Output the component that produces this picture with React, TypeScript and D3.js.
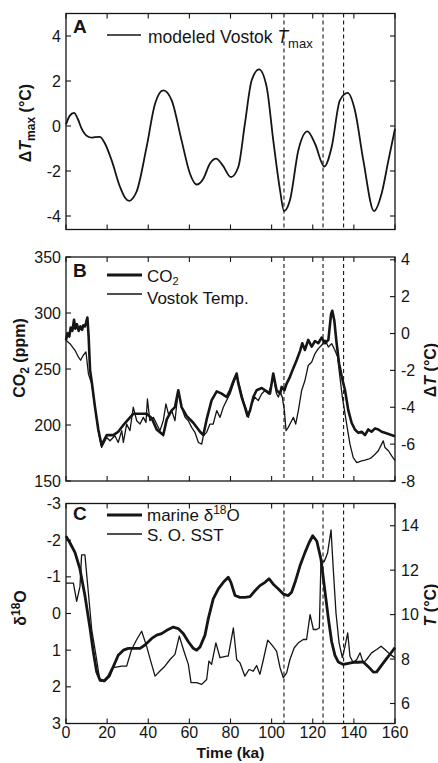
import React from "react";
import * as d3 from "d3";

const FONT = "'Liberation Sans', Arial, Helvetica, sans-serif";
const INK = "#151515";

// shared time axis (ka)
const ageDomain = [0, 160];
const ageTicks = [0, 20, 40, 60, 80, 100, 120, 140, 160];
const eventAges = [106, 125, 135];

// panel A: modeled Vostok Tmax
const tmaxTicks = [-4, -2, 0, 2, 4];
const tmaxSeries: [number, number][] = [
  [0, 0.07], [1.8, 0.45], [3.9, 0.58], [5.8, 0.3], [7.6, -0.12], [10.4, -0.46], [12.5, -0.52],
  [14.1, -0.49], [16.5, -0.48], [19, -0.79], [22.2, -1.53], [26.3, -2.71], [28.8, -3.2],
  [30.8, -3.33], [32.6, -3.2], [34.4, -2.9], [39.2, -0.93], [43.3, 0.99], [47.3, 1.58],
  [51.4, 1.14], [56.2, -0.64], [60.3, -2.12], [63.5, -2.6], [66.8, -2.34], [70, -1.67],
  [73, -1.45], [76.2, -1.75], [80.2, -2.27], [83.8, -1.82], [87, 0.1], [90.3, 2.03],
  [93.9, 2.52], [97.6, 1.73], [100.8, -0.64], [104.1, -2.86], [106, -3.78], [108.9, -3.3],
  [113, -1.08], [117.4, -0.24], [121.1, -0.79], [125.6, -1.8], [129.2, -0.93], [133.2, 1.14],
  [137, 1.47], [140.5, 0.7], [144.6, -1.53], [149.8, -3.78], [153.5, -3.0], [156.8, -1.53],
  [160, -0.12],
];

// panel B: CO2 (ppm, left) and Vostok temperature (deg C, right)
const co2Ticks = [150, 200, 250, 300, 350];
const vostokTicks = [-8, -6, -4, -2, 0, 2, 4];
const co2Series: [number, number][] = [
  [0, 276], [0.8, 282], [1.6, 279], [2.3, 287], [3.1, 284], [3.9, 294], [4.5, 286], [5.3, 290],
  [6.2, 284], [7.0, 288], [7.8, 285], [8.4, 289], [9.2, 288], [9.7, 291], [10.4, 296], [11.0, 279],
  [11.7, 249], [12.5, 239], [14.1, 216], [15.7, 196], [17.3, 182], [19.8, 191], [23.0, 191],
  [25.4, 194], [27.9, 200], [30.3, 205], [32.7, 210], [36.0, 210], [39.2, 210], [41.7, 206],
  [44.1, 196], [47.3, 191], [49.0, 205], [51.4, 213], [53.0, 216], [54.6, 231], [56.2, 216],
  [58.7, 208], [61.9, 202], [65.2, 194], [66.8, 191], [68.4, 205], [70.8, 222], [73.3, 230],
  [75.7, 228], [78.1, 225], [79.8, 231], [81.4, 239], [83.0, 246], [83.8, 237], [85.4, 225],
  [87.0, 216], [88.3, 208], [89.5, 213], [91.1, 225], [92.7, 231], [95.2, 233], [97.6, 230],
  [99.2, 228], [100.8, 246], [102.4, 231], [104.1, 228], [104.9, 234], [106.2, 231], [107.3, 237],
  [108.9, 243], [110.6, 251], [112.2, 258], [113.8, 266], [114.9, 273], [116.2, 267], [117.8, 276],
  [119.5, 270], [121.1, 275], [122.7, 273], [124.3, 278], [126.0, 273], [127.6, 276], [128.9, 299],
  [129.5, 302], [130.5, 293], [131.6, 273], [132.8, 255], [134.1, 243], [135.7, 231], [137.3, 213],
  [138.9, 202], [140.5, 196], [142.2, 193], [143.8, 194], [145.4, 191], [147.0, 196], [148.6, 194],
  [150.3, 197], [151.9, 196], [153.5, 194], [155.1, 193], [156.8, 192], [160, 190],
];
const vostokSeries: [number, number][] = [
  [0, -0.36], [1.9, -0.55], [4.4, -0.91], [6.0, -1.27], [7.1, -1.45], [8.4, -1.18], [9.7, -1.0],
  [10.9, -2.18], [11.7, -2.45], [12.5, -2.73], [14.1, -4.0], [15.7, -5.27], [17.3, -6.18],
  [19.8, -5.64], [21.4, -5.82], [23.8, -5.55], [25.4, -5.91], [27.1, -5.27], [27.9, -5.91],
  [29.5, -4.91], [31.1, -5.27], [32.7, -4.0], [34.4, -4.73], [36.0, -4.91], [37.6, -4.55],
  [38.9, -4.82], [39.6, -3.55], [40.8, -4.73], [42.5, -4.55], [44.1, -4.91], [45.7, -5.27],
  [47.3, -4.73], [48.6, -3.82], [49.8, -4.36], [51.4, -4.18], [53.0, -4.73], [54.6, -3.09],
  [56.2, -4.0], [57.9, -4.55], [59.5, -4.73], [61.1, -5.09], [62.7, -5.36], [64.4, -5.91],
  [66.0, -6.0], [66.8, -5.55], [68.4, -5.36], [70.0, -4.91], [71.6, -4.91], [73.3, -4.18],
  [74.9, -4.55], [76.5, -4.0], [78.9, -3.45], [79.8, -3.27], [81.4, -2.73], [83.0, -2.27],
  [84.6, -2.91], [86.2, -3.64], [87.9, -4.18], [88.7, -4.55], [90.3, -3.82], [91.9, -3.45],
  [93.5, -3.64], [95.2, -3.27], [96.8, -3.09], [98.4, -3.27], [100.0, -2.73], [100.8, -2.27],
  [102.4, -3.27], [103.3, -3.45], [104.1, -3.18], [105.2, -3.45], [106.2, -4.18], [107.0, -5.27],
  [108.1, -5.09], [108.9, -4.91], [110.6, -4.55], [111.7, -4.91], [113.0, -4.18], [114.6, -3.09],
  [116.2, -2.55], [117.8, -1.73], [119.5, -1.55], [121.1, -1.09], [122.7, -0.82], [124.3, -0.64],
  [126.0, -0.36], [127.6, -0.73], [129.2, -0.55], [130.8, -0.91], [132.1, -1.27], [133.2, -2.36],
  [134.4, -3.45], [135.7, -4.36], [137.0, -5.27], [138.1, -6.0], [139.7, -6.73], [141.4, -7.0],
  [143.8, -6.91], [145.4, -6.87], [147.0, -6.82], [148.6, -6.73], [150.3, -6.55], [151.9, -6.36],
  [153.5, -6.0], [154.3, -5.82], [155.1, -6.18], [156.8, -6.36], [158.4, -6.64], [160, -6.9],
];

// panel C: marine d18O (left, reversed) and Southern Ocean SST (deg C, right)
const d18oTicks = [-3, -2, -1, 0, 1, 2, 3];
const sstTicks = [6, 8, 10, 12, 14];
const d18oSeries: [number, number][] = [
  [0, -2.11], [1.9, -1.93], [4.4, -1.66], [6.8, -1.21], [9.2, -0.49], [11.7, 0.41], [13.3, 1.05],
  [14.9, 1.59], [16.5, 1.81], [18.5, 1.84], [20.6, 1.72], [23.0, 1.45], [25.4, 1.14], [27.9, 1.0],
  [30.3, 0.95], [32.7, 0.95], [36.0, 0.95], [38.4, 0.86], [41.7, 0.68], [44.1, 0.59], [46.5, 0.55],
  [49.0, 0.46], [52.2, 0.37], [54.6, 0.41], [57.1, 0.55], [59.5, 0.77], [61.9, 0.95], [63.5, 1.0],
  [65.2, 0.91], [67.6, 0.59], [69.2, 0.14], [71.6, -0.4], [74.1, -0.67], [76.5, -0.85], [78.9, -0.99],
  [80.2, -0.85], [82.2, -0.49], [84.6, -0.44], [87.0, -0.44], [89.5, -0.46], [91.9, -0.62],
  [94.3, -0.76], [96.8, -0.85], [98.7, -0.95], [100.8, -0.8], [103.3, -0.67], [105.7, -0.53],
  [108.1, -0.49], [109.7, -0.58], [111.4, -0.85], [113.8, -1.3], [116.2, -1.66], [118.2, -1.93],
  [120.0, -2.12], [122.0, -1.97], [124.0, -1.48], [125.8, -0.67], [127.6, 0.14], [129.2, 0.77],
  [130.8, 1.14], [132.4, 1.32], [134.9, 1.39], [137.3, 1.36], [139.7, 1.33], [142.2, 1.33],
  [144.6, 1.32], [147.0, 1.45], [149.5, 1.6], [151.1, 1.59], [153.5, 1.41], [155.9, 1.23],
  [158.4, 1.05], [160, 0.93],
];
const sstSeries: [number, number][] = [
  [0, 11.42], [3.6, 11.42], [5.2, 10.6], [6.8, 11.27], [7.6, 12.69], [9.2, 12.69], [10.9, 10.97],
  [12.5, 9.33], [14.9, 7.98], [16.5, 7.01], [19.0, 7.01], [21.4, 7.23], [23.0, 7.61], [27.1, 7.68],
  [29.5, 7.68], [31.9, 8.43], [34.4, 8.88], [36.8, 9.25], [39.2, 8.58], [41.2, 7.91], [43.3, 7.23],
  [45.7, 7.46], [48.1, 7.68], [50.6, 7.98], [53.0, 8.21], [55.1, 9.03], [57.1, 8.43], [59.5, 7.76],
  [60.8, 6.94], [63.5, 6.94], [66.0, 6.86], [68.4, 7.08], [69.5, 7.91], [70.8, 7.76], [72.9, 8.73],
  [74.9, 8.06], [78.1, 8.13], [78.9, 8.13], [81.4, 9.4], [83.0, 7.98], [84.6, 7.83], [87.0, 7.23],
  [89.0, 7.53], [91.1, 7.46], [92.7, 7.71], [94.3, 7.31], [96.0, 7.98], [98.1, 8.85], [100.0, 8.65],
  [102.4, 8.36], [104.1, 7.61], [105.7, 7.16], [107.3, 7.38], [108.9, 7.98], [111.0, 8.51],
  [113.0, 8.73], [115.4, 8.88], [117.0, 8.88], [118.7, 10.0], [120.3, 9.33], [121.9, 9.33],
  [123.2, 9.4], [124.0, 12.39], [125.6, 12.39], [127.2, 12.77], [128.9, 13.81], [130.0, 12.02],
  [131.3, 10.07], [132.8, 8.73], [134.4, 8.06], [135.7, 8.58], [137.0, 9.18], [138.1, 8.13],
  [139.7, 7.83], [141.4, 7.98], [143.0, 8.28], [144.6, 7.83], [146.2, 7.98], [148.6, 8.28],
  [151.1, 8.43], [153.2, 8.58], [155.1, 8.43], [157.6, 8.21], [160, 8.06],
];

const W = 438;
const H = 763;
const X0 = 66;
const X1 = 395;
const TICK = 5;

const x = d3.scaleLinear().domain(ageDomain).range([X0, X1]);

const panelA = { top: 13.5, bottom: 229.5 };
const panelB = { top: 257, bottom: 481 };
const panelC = { top: 503.5, bottom: 723.5 };

const yA = d3.scaleLinear().domain([-4.6, 5]).range([panelA.bottom, panelA.top]);
const yB = d3.scaleLinear().domain([150, 350]).range([panelB.bottom, panelB.top]);
const yBr = d3.scaleLinear().domain([-8, 4.15]).range([panelB.bottom, panelB.top]);
const yC = d3.scaleLinear().domain([-3, 3]).range([panelC.top, panelC.bottom]);
const yCr = d3.scaleLinear().domain([5.1, 15]).range([panelC.bottom, panelC.top]);

type Scale = d3.ScaleLinear<number, number>;

function Frame({ top, bottom, left, leftTicks, right, rightTicks, bottomLabels }: {
  top: number; bottom: number; left: Scale; leftTicks: number[];
  right?: Scale; rightTicks?: number[]; bottomLabels?: boolean;
}) {
  const rScale = right || left;
  const rTicks = rightTicks || leftTicks;
  return (
    <g>
      {eventAges.map((a) => (
        <line key={"ev" + a} x1={x(a)} x2={x(a)} y1={top} y2={bottom}
          stroke={INK} strokeWidth={1.1} strokeDasharray="4 3" />
      ))}
      {leftTicks.map((t) => (
        <g key={"l" + t}>
          <line x1={X0} x2={X0 + TICK} y1={left(t)} y2={left(t)} stroke={INK} strokeWidth={1.1} />
          <text x={X0 - 5} y={left(t) + 5.6} textAnchor="end" fontSize={16}>{String(t)}</text>
        </g>
      ))}
      {rTicks.map((t) => (
        <g key={"r" + t}>
          <line x1={X1 - TICK} x2={X1} y1={rScale(t)} y2={rScale(t)} stroke={INK} strokeWidth={1.1} />
          {right && (
            <text x={X1 + 6} y={rScale(t) + 5.6} textAnchor="start" fontSize={16}>{String(t)}</text>
          )}
        </g>
      ))}
      {ageTicks.map((t) => (
        <g key={"b" + t}>
          <line x1={x(t)} x2={x(t)} y1={bottom} y2={bottom - TICK} stroke={INK} strokeWidth={1.1} />
          <line x1={x(t)} x2={x(t)} y1={top} y2={top + TICK} stroke={INK} strokeWidth={1.1} />
          {bottomLabels && (
            <text x={x(t)} y={bottom + 14} textAnchor="middle" fontSize={16}>{String(t)}</text>
          )}
        </g>
      ))}
      <rect x={X0} y={top} width={X1 - X0} height={bottom - top} fill="none" stroke={INK} strokeWidth={1.3} />
    </g>
  );
}

function path(series: [number, number][], y: Scale, curve: d3.CurveFactory = d3.curveLinear) {
  return d3.line<[number, number]>().x((d) => x(d[0])).y((d) => y(d[1])).curve(curve)(series) || "";
}

export default function App() {
  return (
    <svg width={W} height={H} style={{ position: "absolute", left: 0, top: 0, background: "#fff" }}
      fontFamily={FONT} fill={INK}>
      {/* Panel A */}
      <Frame top={panelA.top} bottom={panelA.bottom} left={yA} leftTicks={tmaxTicks} />
      <path d={path(tmaxSeries, yA, d3.curveMonotoneX)} fill="none" stroke={INK} strokeWidth={1.8} />
      <text x={73} y={33} fontSize={19} fontWeight="bold">A</text>
      <line x1={107} x2={141} y1={35} y2={35} stroke={INK} strokeWidth={1.6} />
      <text x={148} y={43} fontSize={17.5}>
        modeled Vostok <tspan fontStyle="italic">T</tspan>
        <tspan fontSize={13} dy={5}>max</tspan>
      </text>
      <text transform="translate(31,123) rotate(-90)" textAnchor="middle" fontSize={16} fontWeight="bold">
        {"\u0394"}<tspan fontStyle="italic">T</tspan>
        <tspan fontSize={12} dy={4}>max</tspan>
        <tspan dy={-4}> (°C)</tspan>
      </text>

      {/* Panel B */}
      <Frame top={panelB.top} bottom={panelB.bottom} left={yB} leftTicks={co2Ticks}
        right={yBr} rightTicks={vostokTicks} />
      <path d={path(vostokSeries, yBr)} fill="none" stroke={INK} strokeWidth={1.3} strokeLinejoin="round" />
      <path d={path(co2Series, yB)} fill="none" stroke={INK} strokeWidth={2.6} strokeLinejoin="round" />
      <text x={73} y={277} fontSize={19} fontWeight="bold">B</text>
      <line x1={107} x2={142} y1={275} y2={275} stroke={INK} strokeWidth={2.8} />
      <text x={147} y={281.5} fontSize={17}>
        CO<tspan fontSize={11} dy={3.5}>2</tspan>
      </text>
      <line x1={107} x2={142} y1={294} y2={294} stroke={INK} strokeWidth={1.4} />
      <text x={147} y={304} fontSize={17}>Vostok Temp.</text>
      <text transform="translate(25,358) rotate(-90)" textAnchor="middle" fontSize={16} fontWeight="bold">
        CO<tspan fontSize={12} dy={4}>2</tspan>
        <tspan dy={-4}> (ppm)</tspan>
      </text>
      <text transform="translate(436,370) rotate(-90)" textAnchor="middle" fontSize={16} fontWeight="bold">
        {"\u0394"}<tspan fontStyle="italic">T</tspan> (°C)
      </text>

      {/* Panel C */}
      <Frame top={panelC.top} bottom={panelC.bottom} left={yC} leftTicks={d18oTicks}
        right={yCr} rightTicks={sstTicks} bottomLabels />
      <path d={path(sstSeries, yCr)} fill="none" stroke={INK} strokeWidth={1.3} strokeLinejoin="round" />
      <path d={path(d18oSeries, yC)} fill="none" stroke={INK} strokeWidth={2.8} strokeLinejoin="round" />
      <text x={73} y={520} fontSize={19} fontWeight="bold">C</text>
      <line x1={107} x2={142} y1={515} y2={515} stroke={INK} strokeWidth={2.8} />
      <text x={147} y={521} fontSize={17}>
        marine {"\u03B4"}<tspan fontSize={12} dy={-7}>18</tspan>
        <tspan dy={7}>O</tspan>
      </text>
      <line x1={107} x2={142} y1={534} y2={534} stroke={INK} strokeWidth={1.4} />
      <text x={147} y={541} fontSize={17}>S. O. SST</text>
      <text transform="translate(26,608) rotate(-90)" textAnchor="middle" fontSize={16} fontWeight="bold">
        {"\u03B4"}<tspan fontSize={12} dy={-6}>18</tspan>
        <tspan dy={6}>O</tspan>
      </text>
      <text transform="translate(436,605) rotate(-90)" textAnchor="middle" fontSize={16} fontWeight="bold">
        <tspan fontStyle="italic">T</tspan> (°C)
      </text>
      <text x={(X0 + X1) / 2} y={758} textAnchor="middle" fontSize={15.5} fontWeight="bold">Time (ka)</text>
    </svg>
  );
}
